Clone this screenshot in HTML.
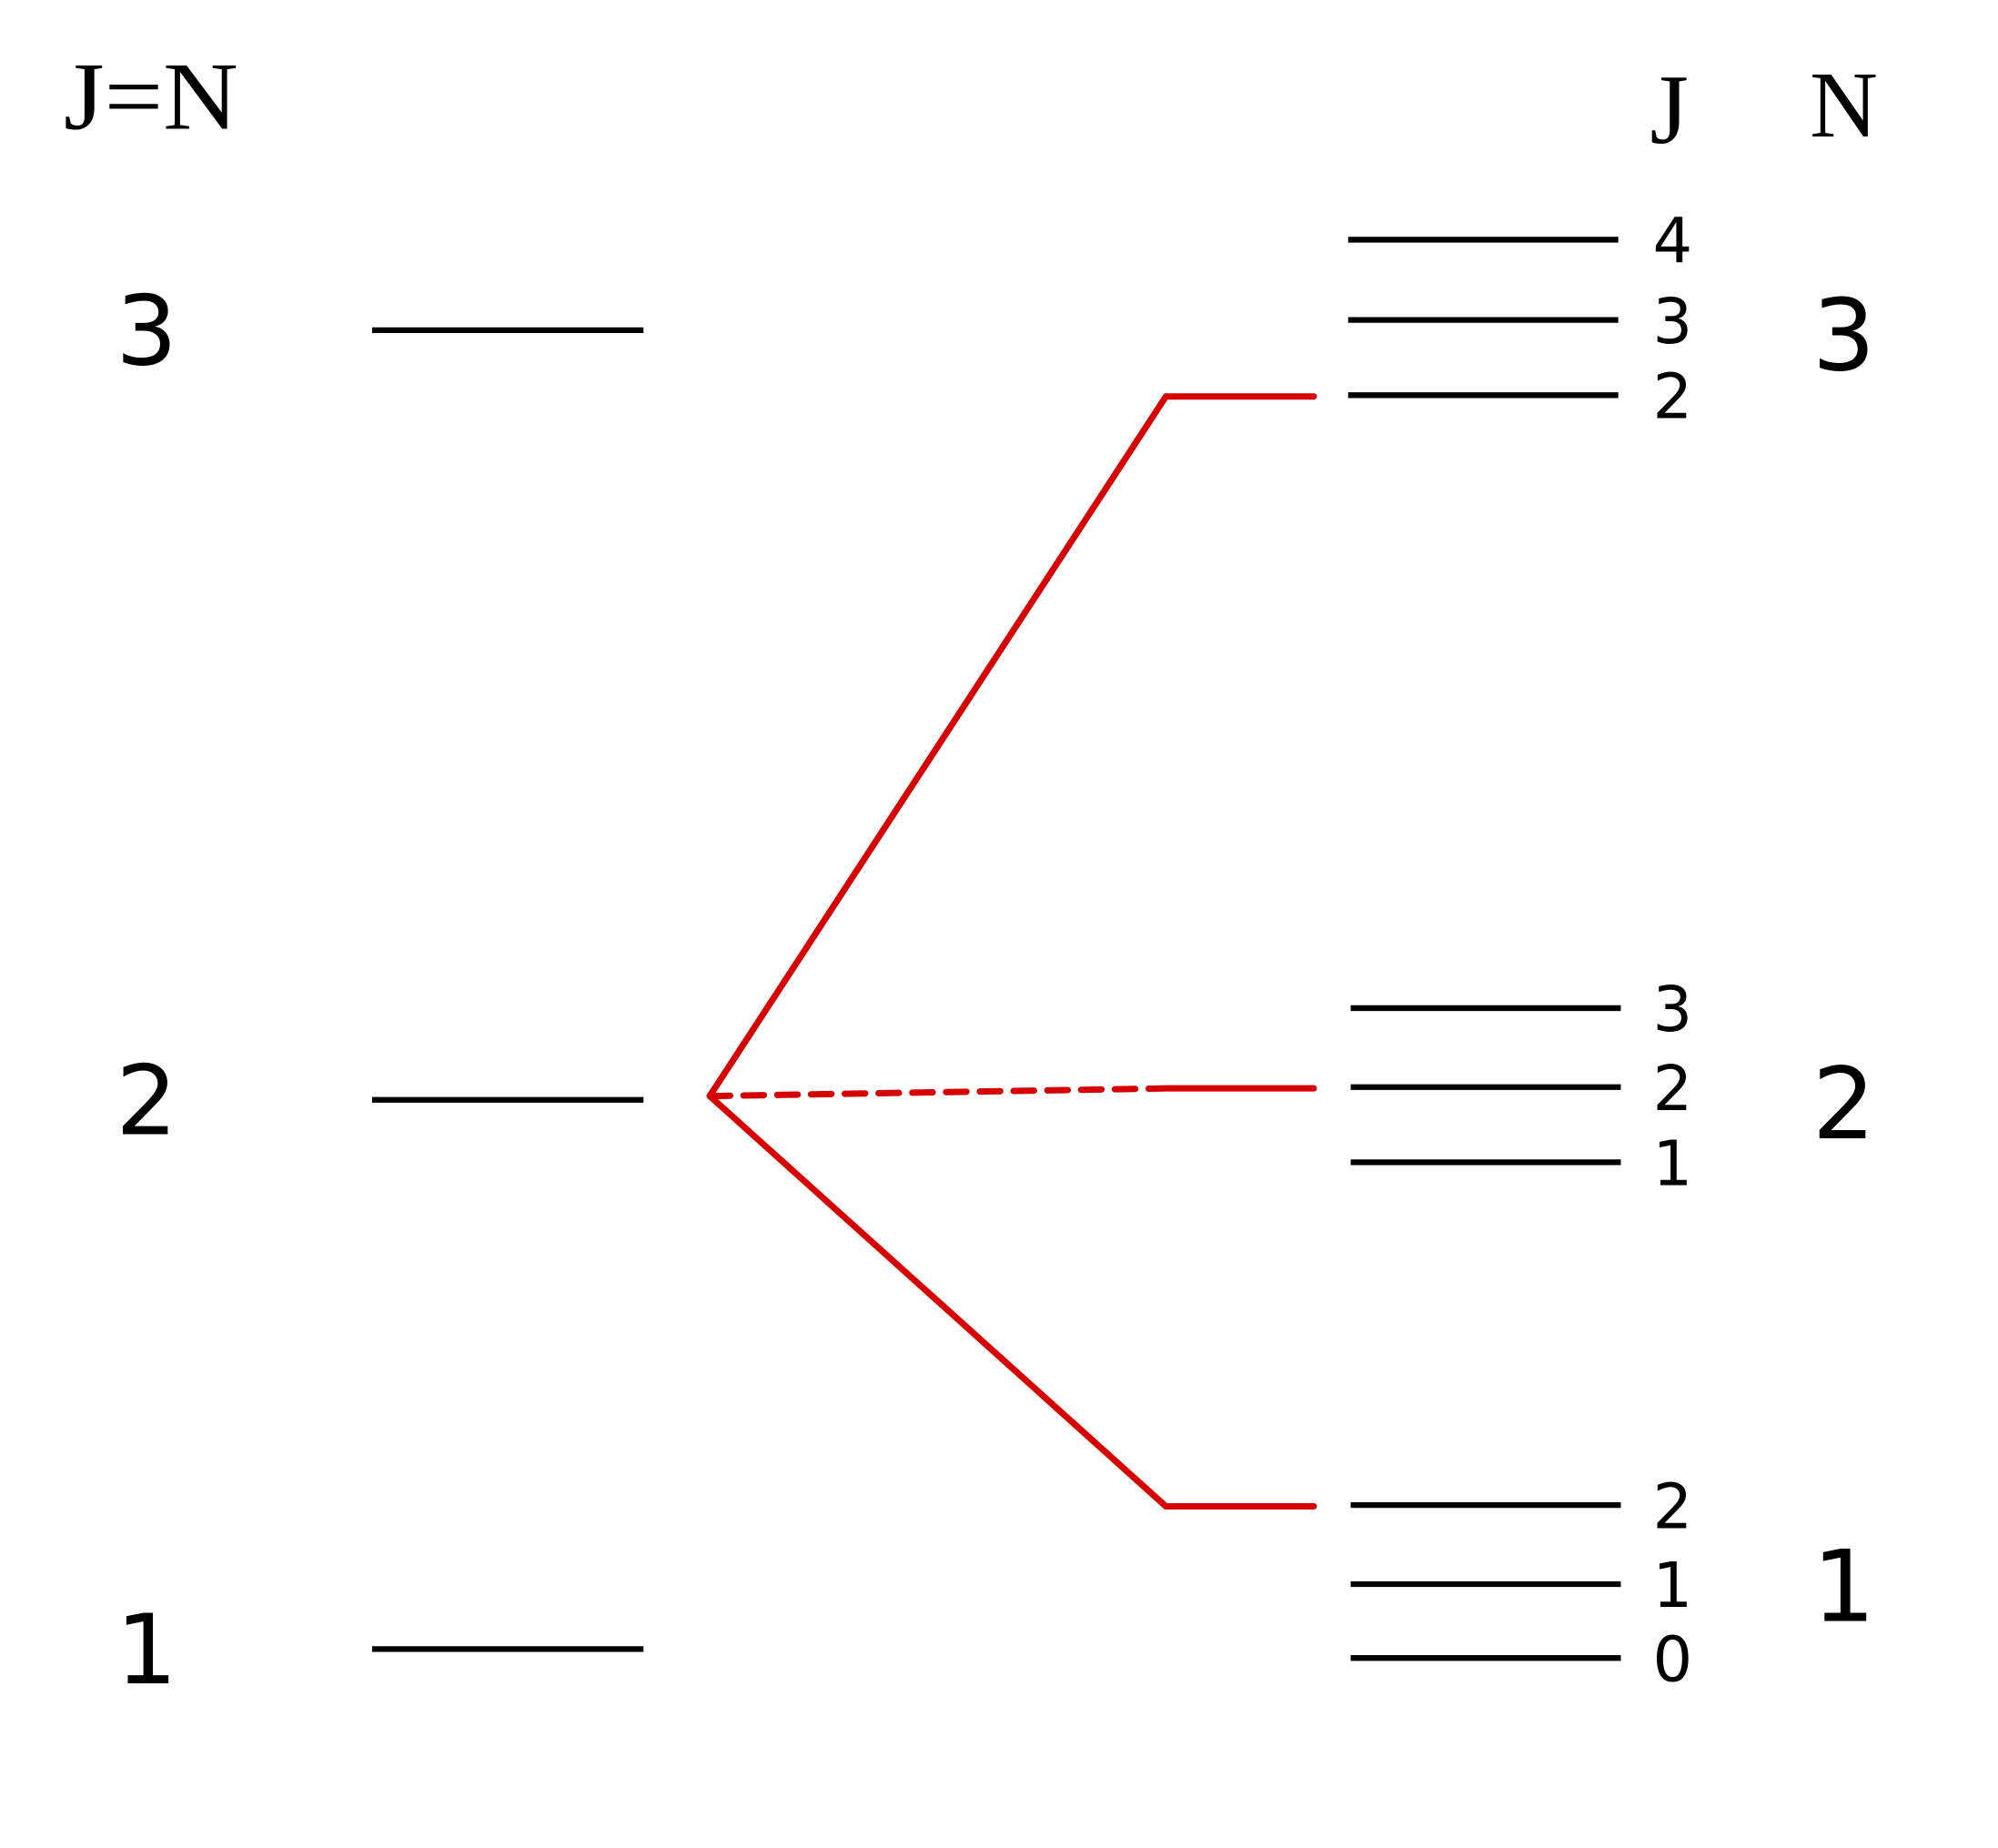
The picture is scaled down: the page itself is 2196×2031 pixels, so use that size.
<!DOCTYPE html>
<html><head><meta charset="utf-8"><style>
html,body{margin:0;padding:0;background:#fff;}
svg{display:block;}
</style></head><body>
<svg id="chart" width="2196" height="2031" viewBox="0 0 1568 1450" xmlns="http://www.w3.org/2000/svg">
<text x="50" y="101" font-family="Liberation Serif, serif" font-size="76" textLength="137" lengthAdjust="spacingAndGlyphs">J=N</text>
<text x="1310" y="112" text-anchor="middle" font-family="Liberation Serif, serif" font-size="78">J</text>
<text x="1447" y="107" text-anchor="middle" font-family="Liberation Serif, serif" font-size="74">N</text>
<g id="g"></g>
</svg>
<script>
const leftLabels = ["3","2","1"];
const leftY = [259, 863, 1294];
const rightN = ["3","2","1"];
const rightJ = [["4","3","2"],["3","2","1"],["2","1","0"]];
const rightY = [[188,251,310],[791,853,912],[1181,1243,1301]];
const nLabelY = [290, 893, 1272];
const branchTargets = [311, 854, 1182];
const branchDashed = [false, true, false];
const NS = "http://www.w3.org/2000/svg";
const g = document.getElementById('g');
function mk(tag, attrs){const e=document.createElementNS(NS,tag);for(const k in attrs)e.setAttribute(k,attrs[k]);g.appendChild(e);return e;}
leftLabels.forEach((lab,i)=>{
  const t=mk('text',{x:115,y:leftY[i]+27,'text-anchor':'middle','font-family':'DejaVu Sans, sans-serif','font-size':76});
  t.textContent=lab;
  
  
  const l=mk('line',{x1:292,x2:505,y1:leftY[i],y2:leftY[i],stroke:'#000','stroke-width':4.5});
  
  
});
rightN.forEach((n,i)=>{
  const t=mk('text',{x:1447,y:nLabelY[i],'text-anchor':'middle','font-family':'DejaVu Sans, sans-serif','font-size':78});
  t.textContent=n;
  
  
  rightJ[i].forEach((j,k)=>{
    const y=rightY[i][k];
    const x0 = i===0?1058:1060;
    const l=mk('line',{x1:x0,x2:x0+212,y1:y,y2:y,stroke:'#000','stroke-width':4.5});
    
    
    const tt=mk('text',{x:1297,y:y+18,'font-family':'DejaVu Sans, sans-serif','font-size':49});
    tt.textContent=j;
    
    
  });
});
branchTargets.forEach((y,i)=>{
  const a={x1:557,y1:860,x2:915,y2:y,stroke:'#d60000','stroke-width':5,'stroke-linecap':'round'};
  if(branchDashed[i]) a['stroke-dasharray']='16 10.5';
  const l=mk('line',a);
  
  
  const h=mk('line',{x1:916,x2:1031,y1:y,y2:y,stroke:'#d60000','stroke-width':5,'stroke-linecap':'round'});
  
  
});
</script>
</body></html>
